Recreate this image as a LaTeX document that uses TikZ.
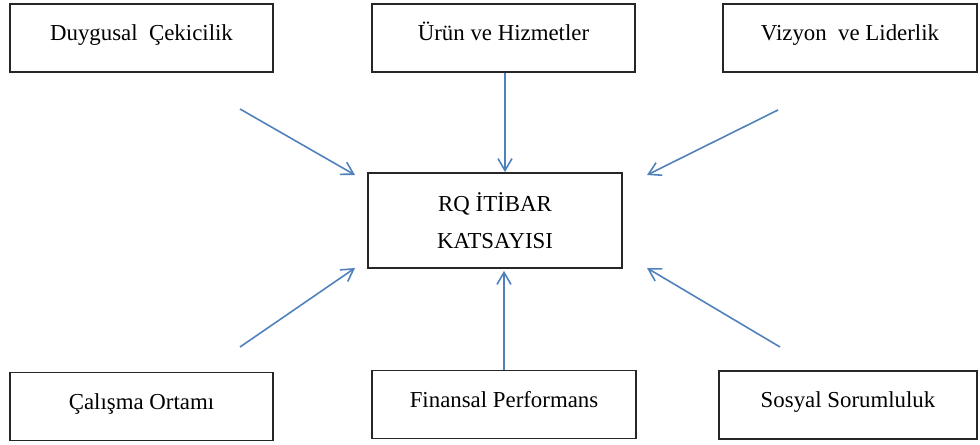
\documentclass[tikz,border=0pt]{standalone}
\usepackage{fontspec}
\setmainfont{Liberation Serif}
\usetikzlibrary{arrows.meta}
\definecolor{arrowblue}{RGB}{79,129,189}
\tikzset{factor/.style={draw=black!85, line width=1pt, rectangle,
 minimum width=5.26cm, inner ysep=0pt, text height=21pt, text depth=17.6pt,
 font=\fontsize{13}{15}\selectfont
}}
\tikzset{core/.style={draw=black!85, line width=1pt, rectangle, align=center,
 minimum width=5.08cm, minimum height=1.9cm, font=\fontsize{13}{21}\selectfont
}}
\tikzset{pull/.style={draw=arrowblue, line width=0.9pt,
 -{Straight Barb[length=2.4mm, width=2.8mm]}
}}

\begin{document}
\begin{tikzpicture}

\useasboundingbox [fill=white] (0,0) rectangle (19.6,-8.9);

\node [core] (rq) at (9.9,-4.41) {RQ İTİBAR\\KATSAYISI};

\foreach \n/\p/\w/\t in 
  {dc/{(2.83,-0.76)}/5.26/{Duygusal\ \ Çekicilik}, uh/{(10.07,-0.76)}/5.26/{Ürün ve Hizmetler}, 
  vl/{(17.0,-0.76)}/5.08/{Vizyon\ \ ve Liderlik}, co/{(2.83,-8.13)}/5.26/{Çalışma Ortamı}, 
  fp/{(10.08,-8.09)}/5.28/{Finansal Performans}, ss/{(16.96,-8.1)}/5.16/{Sosyal Sorumluluk}}
\node [factor, minimum width=\w cm] (\n) at \p {\t};

\coordinate (dcs) at (4.8,-2.18);  \coordinate (dce) at (7.1,-3.5);
\coordinate (vls) at (15.56,-2.2); \coordinate (vle) at (12.94,-3.5);
\coordinate (cos) at (4.8,-6.94);  \coordinate (coe) at (7.1,-5.36);
\coordinate (sss) at (15.6,-6.94); \coordinate (sse) at (12.94,-5.36);

\foreach \a/\b in {dcs/dce, vls/vle, cos/coe, sss/sse}
\draw [pull] (\a) -- (\b);

\draw [pull] ([xshift=0.03cm]uh.south) -- ([xshift=0.03cm]uh.south |- rq.north);
\draw [pull] (fp.north) -- ([yshift=-0.04cm]fp.north |- rq.south);
\end{tikzpicture}
\end{document}
